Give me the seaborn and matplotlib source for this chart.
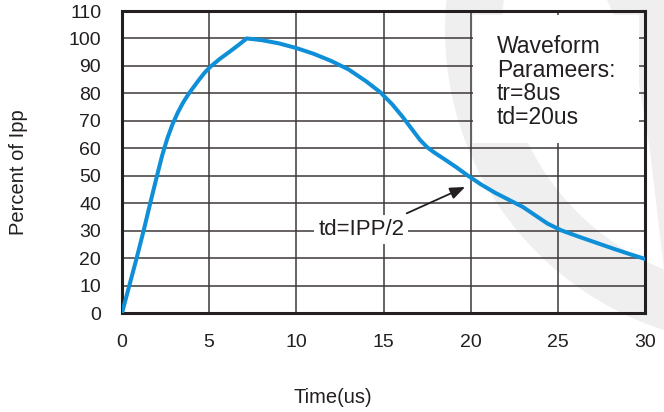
import matplotlib
matplotlib.use("Agg")
import matplotlib.pyplot as plt
import matplotlib.transforms as mtransforms
from matplotlib.patches import Rectangle, Wedge, Polygon
import seaborn as sns

# ---- data ----
time_us = [0, 0.42, 0.84, 1.24, 1.62, 2.0, 2.3, 2.6, 2.9, 3.2, 3.5, 3.84,
           4.4, 4.75, 5.09, 5.6, 6.2, 6.7, 7.15,
           8.0, 9.0, 10.0, 11.0, 12.0, 13.0, 14.0, 14.8, 15.5, 16.1, 16.6,
           17.1, 17.5, 17.9, 18.5, 19.2, 19.8, 20.6, 21.4, 22.2, 23.0, 23.7,
           24.4, 25.2, 26.2, 27.2, 28.2, 29.1, 30.0]
percent_ipp = [0, 10, 20, 30, 40, 49.8, 57.3, 63.6, 68.8, 73.0, 76.6, 80.0,
               84.8, 87.6, 89.8, 92.5, 95.3, 97.7, 100,
               99.4, 98.2, 96.5, 94.4, 91.8, 88.7, 84.4, 80.5, 76.0, 71.4, 67.2,
               63.0, 60.4, 58.5, 56.0, 53.0, 50.2, 46.8, 43.8, 41.2, 38.6, 35.6,
               32.6, 30.1, 27.8, 25.6, 23.4, 21.5, 19.7]
x_ticks = [0, 5, 10, 15, 20, 25, 30]
y_ticks = [0, 10, 20, 30, 40, 50, 60, 70, 80, 90, 100, 110]
box_lines = ["Waveform", "Parameers:", "tr=8us", "td=20us"]
annot_label = "td=IPP/2"
annot_point = (19.68, 45.9)
x_label = "Time(us)"
y_label = "Percent of Ipp"

# ---- style ----
sns.set_theme(style="white")
plt.rcParams["font.family"] = ["Liberation Sans", "DejaVu Sans"]
ink = "#231f20"
blue = "#0f8fd8"

W, H = 664, 412
fig = plt.figure(figsize=(W / 100, H / 100), dpi=100)
fig.patch.set_facecolor("white")
ax = fig.add_axes([122 / W, 1 - 313 / H, 523 / W, 302 / H])
ax.set_facecolor("none")

# faint background watermark (pixel coordinates, origin bottom-left)
px = mtransforms.Affine2D().scale(1 / 100) + fig.dpi_scale_trans
wm = Wedge((760, H - 30), 315, 130, 300, width=57, transform=px,
           facecolor="#efefef", edgecolor="none", zorder=-1)
fig.add_artist(wm)
wm2 = Polygon([(607, H), (W, H), (W, H - 270), (650, H - 150), (635, H - 60)],
              closed=True, transform=px, facecolor="#efefef",
              edgecolor="none", zorder=-1)
fig.add_artist(wm2)

sns.lineplot(x=time_us, y=percent_ipp, ax=ax, color=blue, linewidth=2.9,
             estimator=None, sort=False, zorder=3)

ax.set_xlim(0, 30)
ax.set_ylim(0, 110)
ax.set_xticks(x_ticks)
ax.set_yticks(y_ticks)
ax.set_axisbelow(True)
ax.grid(True, color="#3d3838", linewidth=1.1)
ax.tick_params(axis="both", length=0, labelsize=14, labelcolor=ink)
ax.tick_params(axis="x", pad=15)
ax.tick_params(axis="y", pad=15)
for s in ax.spines.values():
    s.set_visible(True)
    s.set_linewidth(2.2)
    s.set_color(ink)

ax.set_xlabel(x_label, fontsize=14.5, color=ink)
ax.set_ylabel(y_label, fontsize=14.5, color=ink)
ax.xaxis.set_label_coords(0.4035, -0.2467)
ax.yaxis.set_label_coords(-0.18, 0.467)

# parameter box
ax.add_patch(Rectangle((20.12, 61.9), 29.66 - 20.12, 108.7 - 61.9,
                       facecolor="white", edgecolor="none", zorder=1))
line_y = [94.8, 86.1, 77.6, 68.9]
for s, yy in zip(box_lines, line_y):
    ax.text(21.51, yy, s, fontsize=16.5, color=ink, ha="left",
            va="baseline", zorder=4)

# annotation
ax.text(11.25, 28.4, annot_label, fontsize=16, color=ink, ha="left",
        va="baseline", zorder=4,
        bbox=dict(boxstyle="square,pad=0.18", facecolor="white",
                  edgecolor="none"))
ax.annotate("", xy=annot_point, xytext=(16.33, 36.3),
            arrowprops=dict(arrowstyle="-|>,head_length=0.5,head_width=0.2",
                            color=ink, lw=1.3, shrinkA=0, shrinkB=0,
                            mutation_scale=18), zorder=4)

fig.savefig("out.png", dpi=100)
